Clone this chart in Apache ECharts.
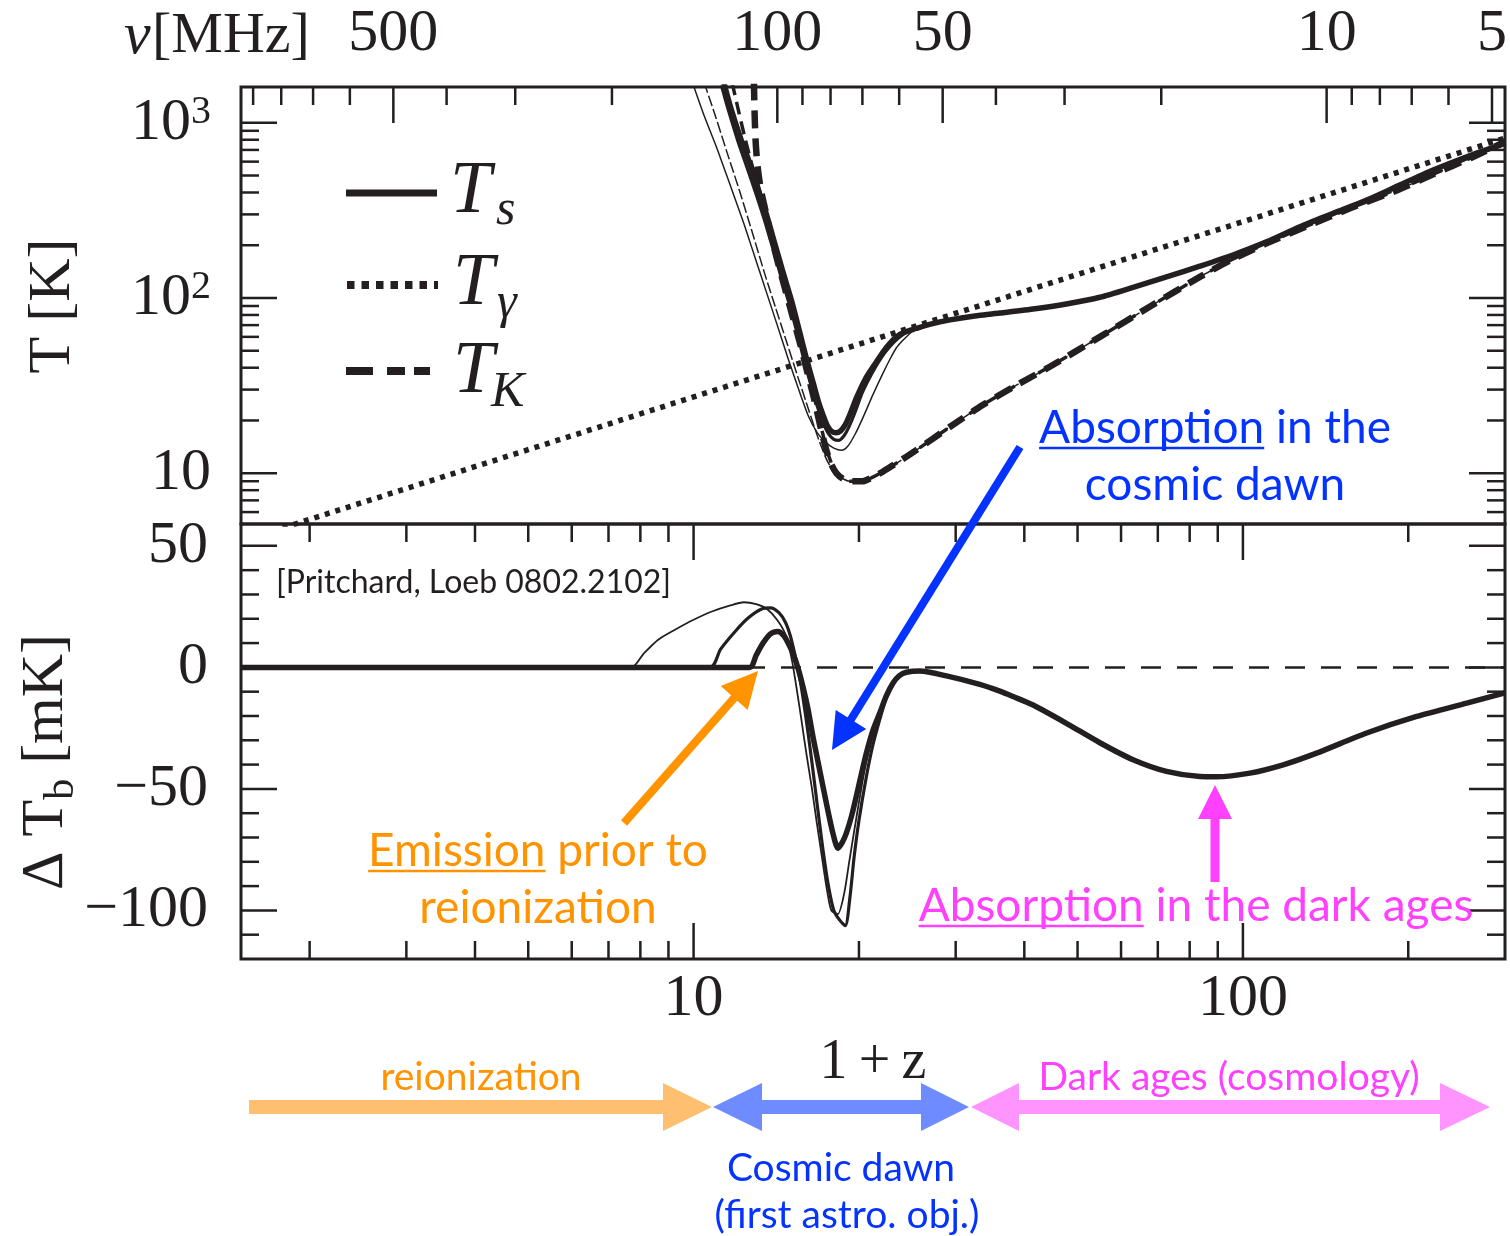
<!DOCTYPE html>
<html>
<head>
<meta charset="utf-8">
<title>21-cm signal: spin temperature and brightness temperature</title>
<script src="https://cdn.jsdelivr.net/npm/echarts@6.0.0/dist/echarts.min.js"></script>
<style>
  html, body { margin: 0; padding: 0; background: #ffffff; }
  #chart { width: 1510px; height: 1236px; }
</style>
</head>
<body>
<div id="chart"></div>
<script>
// ---------------- data (x is 1+z everywhere) ----------------
const zRange = [1.5, 300];
const tRange = [5.13, 1600];
const dtRange = [-120, 59];
const REST_FREQ = 1420.4; // MHz, 21-cm line

// CMB temperature
const tGamma = [[1.5, 4.09], [10, 27.25], [100, 272.5], [300, 817.5]];

// spin temperature: high-z part shared by all three models
const tsTail = [[25.4, 67], [27, 71], [29.3, 75], [33, 79.5], [36.1, 82], [41.5, 86.5], [47.7, 92.5],
  [54.9, 101], [63.1, 115], [72.6, 132], [83.5, 152], [95.9, 176], [110.4, 209], [127, 255], [146, 304],
  [168, 362], [193, 441], [222, 537], [255.6, 640], [300, 763]];
const tsThickHead = [[11.35, 1700], [11.7, 1200], [12.2, 800], [12.65, 590], [13.1, 420], [13.57, 300],
  [14.05, 205], [14.55, 140], [15.1, 95], [15.6, 64], [16.05, 45], [16.5, 33], [16.85, 26], [17.2, 21.5],
  [17.5, 18.8], [17.8, 17.4], [18.15, 17], [18.5, 17.4], [18.9, 19], [19.24, 21.5], [19.8, 27], [20.6, 35],
  [21.5, 43], [22.2, 50], [22.75, 55], [23.4, 60], [24.1, 63.5]];
const tsMediumHead = [[11.2, 1700], [11.55, 1200], [12.05, 780], [12.5, 560], [13.0, 390], [13.45, 280],
  [13.95, 190], [14.45, 130], [15.0, 88], [15.5, 60], [15.95, 42], [16.4, 31], [16.8, 24], [17.2, 19.5],
  [17.6, 16.8], [18.0, 15.6], [18.4, 15.4], [18.8, 16.4], [19.2, 18.5], [19.7, 22.5], [20.3, 29], [21.1, 37],
  [22.0, 46], [22.8, 53], [23.6, 59], [24.5, 64]];
const tsThinHead = [[9.95, 1700], [10.45, 1100], [11.0, 730], [11.6, 460], [12.3, 275], [12.9, 175],
  [13.57, 108], [14.2, 70], [14.9, 44], [15.6, 29], [16.2, 21], [16.8, 17], [17.4, 15], [18.0, 13.9],
  [18.6, 13.5], [19.1, 14.3], [19.7, 16.8], [20.3, 20.5], [21.2, 28], [22.1, 37], [22.8, 45], [23.4, 52],
  [24.0, 57], [24.6, 61.5]];

// gas kinetic temperature: adiabatic branch shared by all three models
const tkTail = [[19.24, 9.0], [20.3, 9.0], [21.2, 9.5], [22.1, 10.2], [23.7, 11.7], [25.4, 13.5], [29.3, 18.4],
  [33.6, 24.5], [38.7, 31.8], [44.5, 40.5], [54.9, 60], [68, 90], [83.5, 132], [96, 167], [110.4, 205],
  [130, 255], [156.7, 325], [190, 410], [222.6, 510], [260, 630], [300, 780]];
const tkThickHead = [[12.88, 1700], [12.9, 1300], [12.93, 1000], [12.98, 750], [13.08, 560], [13.25, 420],
  [13.5, 320], [13.8, 235], [14.2, 165], [14.65, 115], [15.15, 78], [15.65, 54], [16.1, 38], [16.6, 26],
  [17.05, 18], [17.45, 13.5], [17.8, 11.3], [18.2, 10], [18.7, 9.3]];
const tkMediumHead = [[11.75, 1700], [12.05, 1200], [12.4, 820], [12.8, 560], [13.25, 390], [13.7, 270],
  [14.15, 185], [14.6, 128], [15.1, 86], [15.6, 58], [16.05, 41], [16.55, 28], [17.0, 19.5], [17.4, 14.3],
  [17.8, 11.5], [18.2, 10.1], [18.7, 9.3]];
const tkThinHead = [[10.45, 1700], [10.95, 1100], [11.5, 680], [12.15, 400], [12.8, 235], [13.45, 140],
  [14.1, 88], [14.8, 55], [15.5, 35], [16.2, 23], [16.9, 15.5], [17.5, 11.8], [18.1, 10], [18.7, 9.3]];

// differential brightness temperature [mK]: dark-ages part shared by all three models
const dtTail = [[24.4, -2.0], [25.8, -1.5], [28.86, -3.5], [33.19, -7.0], [36.1, -9.8], [38.16, -12],
  [41.5, -15.5], [47.7, -23], [54.9, -31], [63.1, -38], [72.6, -42.8], [83.5, -44.9], [89.5, -45],
  [103, -43.5], [118.4, -40.1], [136.2, -35.3], [168, -27], [207.2, -20.2], [255.6, -14.7], [300, -10.5]];
const dtThickHead = [[1.5, 0], [12.65, 0], [13.0, 5], [13.38, 10], [13.8, 13.8], [14.24, 14.8], [14.6, 13],
  [14.9, 9.5], [15.16, 5.9], [15.5, -0.5], [15.81, -7.8], [16.15, -17], [16.49, -28.4], [16.85, -39],
  [17.2, -49], [17.6, -60], [17.93, -68.2], [18.31, -74.4], [18.65, -72], [18.97, -68.2], [19.4, -61],
  [19.78, -53.1], [20.2, -44], [20.63, -35.3], [21.2, -26], [21.82, -18.8], [22.4, -12], [23.07, -6.4],
  [23.7, -3.4]];
const dtMediumHead = [[1.5, 0], [10.72, 0], [11.2, 7.5], [11.98, 15.5], [12.6, 20.5], [13.3, 24],
  [13.8, 24.5], [14.3, 22.5], [14.7, 18.5], [15.0, 13], [15.3, 5], [15.6, -4], [16.0, -20], [16.4, -38],
  [16.8, -57], [17.2, -75], [17.6, -90], [18.0, -100], [18.45, -104], [18.89, -106.3], [19.25, -95],
  [19.6, -78], [20.0, -63], [20.63, -45], [21.2, -32], [21.82, -21.5], [22.4, -13], [23.07, -7], [23.7, -3.6]];
const dtThinHead = [[1.5, 0], [7.7, 0], [8.1, 5.5], [8.62, 11.4], [9.3, 15.8], [10.0, 19.6], [10.8, 23],
  [11.63, 25.4], [12.35, 26.8], [13.0, 26], [13.6, 24], [14.2, 19.5], [14.75, 12.8], [15.1, 3], [15.38, -7.8],
  [15.7, -21], [16.04, -35.3], [16.4, -49], [16.73, -62.7], [17.1, -77], [17.45, -90.2], [17.81, -100],
  [18.3, -101.5], [18.8, -93], [19.2, -80], [19.78, -62], [20.3, -47], [20.63, -39], [21.2, -28], [21.82, -19],
  [22.4, -12], [23.07, -6.5], [23.7, -3.4]];
const dtZero = [[1.5, 0], [300, 0]];

// ticks
const zMinorTicks = [2, 3, 4, 5, 6, 7, 8, 9, 20, 30, 40, 50, 60, 70, 80, 90, 200];
const zMajorTicks = [10, 100];
const tMinorTicks = [6, 7, 8, 9, 20, 30, 40, 50, 60, 70, 80, 90, 200, 300, 400, 500, 600, 700, 800, 900];
const tMajorTicks = [10, 100, 1000];
const dtMinorTicks = [-110, -90, -80, -70, -60, -40, -30, -20, -10, 10, 20, 30, 40];
const dtMajorTicks = [-100, -50, 0, 50];
const nuMinorTicks = [900, 800, 700, 600, 400, 300, 200, 90, 80, 70, 60, 40, 30, 20, 9, 8, 7, 6];
const nuMajorTicks = [500, 100, 50, 10, 5];
const nuLabels = ['500', '100', '50', '10', '5'];

// ---------------- styling ----------------
const INK = '#231f20';
const SERIF = "'Liberation Serif', 'Times New Roman', serif";
const ORANGE = '#ff9300', BLUE = '#0433ff', MAGENTA = '#ff40ff';
const ORANGE_LIGHT = '#ffbf70', BLUE_LIGHT = '#6e8cff', PINK_LIGHT = '#ff94ff';
const LATO_MID = 0.32;

const measureCtx = document.createElement('canvas').getContext('2d');
function textWidth(str, font) { measureCtx.font = font; return measureCtx.measureText(str).width; }

function lineSeries(name, data, axis, width, type, z, smooth) {
  return {
    name, type: 'line', xAxisIndex: axis, yAxisIndex: axis, data,
    showSymbol: false, symbol: 'none', smooth: smooth === undefined ? 0.25 : smooth,
    z, silent: true, animation: false,
    lineStyle: { color: INK, width, type, cap: 'butt', join: 'round' }
  };
}

function tickItem(params, api) {
  const cs = params.coordSys;
  const pt = api.coord([api.value(0), api.value(1)]);
  const kind = api.value(2);
  const len = api.value(3) ? 36 : 18;
  const st = { stroke: INK, lineWidth: 2.5 };
  const top = cs.y, bottom = cs.y + cs.height, left = cs.x, right = cs.x + cs.width;
  const kids = [];
  if (kind === 0 || kind === 2) kids.push({ type: 'line', shape: { x1: pt[0], y1: top, x2: pt[0], y2: top + len }, style: st });
  if (kind === 0) kids.push({ type: 'line', shape: { x1: pt[0], y1: bottom, x2: pt[0], y2: bottom - len }, style: st });
  if (kind === 1) {
    kids.push({ type: 'line', shape: { x1: left, y1: pt[1], x2: left + len, y2: pt[1] }, style: st });
    kids.push({ type: 'line', shape: { x1: right, y1: pt[1], x2: right - len, y2: pt[1] }, style: st });
  }
  const li = api.value(4);
  if (kind === 2 && li >= 0) {
    kids.push({ type: 'text', x: pt[0], y: top - 53,
      style: { text: nuLabels[li], font: '60px ' + SERIF, fill: INK, align: 'center', verticalAlign: 'middle', textAlign: 'center', textVerticalAlign: 'middle' } });
  }
  return { type: 'group', children: kids };
}

const topTicks = [];
tMinorTicks.forEach(t => topTicks.push([zRange[0], t, 1, 0, -1]));
tMajorTicks.forEach(t => topTicks.push([zRange[0], t, 1, 1, -1]));
nuMinorTicks.forEach(nu => topTicks.push([REST_FREQ / nu, tRange[0], 2, 0, -1]));
nuMajorTicks.forEach((nu, i) => topTicks.push([REST_FREQ / nu, tRange[0], 2, 1, i]));
const bottomTicks = [];
zMinorTicks.forEach(z => bottomTicks.push([z, dtRange[0], 0, 0, -1]));
zMajorTicks.forEach(z => bottomTicks.push([z, dtRange[0], 0, 1, -1]));
dtMinorTicks.forEach(v => bottomTicks.push([zRange[0], v, 1, 0, -1]));
dtMajorTicks.forEach(v => bottomTicks.push([zRange[0], v, 1, 1, -1]));

// ---------------- annotations ----------------
function annoLine(parts, cx, baseline, size, color, alignLeft) {
  const font = size + 'px Lato';
  const full = parts.map(p => p[0]).join('');
  const total = textWidth(full, font);
  let x = alignLeft ? cx : cx - total / 2;
  const els = [{ type: 'text', z: 100, x: x, y: baseline - LATO_MID * size,
    style: { text: full, font: font, fill: color, align: 'left', verticalAlign: 'middle', textAlign: 'left', textVerticalAlign: 'middle' } }];
  parts.forEach(p => {
    const w = textWidth(p[0], font);
    if (p[1]) els.push({ type: 'line', z: 100, shape: { x1: x, y1: baseline + 5, x2: x + w, y2: baseline + 5 }, style: { stroke: color, lineWidth: 2.5 } });
    x += w;
  });
  return els;
}
function arrow(x1, y1, x2, y2, color, w, hl, hw) {
  const dx = x2 - x1, dy = y2 - y1, L = Math.hypot(dx, dy);
  const ux = dx / L, uy = dy / L, nx = -uy, ny = ux;
  const bx = x2 - ux * hl, by = y2 - uy * hl;
  return [
    { type: 'line', z: 100, shape: { x1: x1, y1: y1, x2: bx + ux * 2, y2: by + uy * 2 }, style: { stroke: color, lineWidth: w } },
    { type: 'polygon', z: 100, shape: { points: [[x2, y2], [bx + nx * hw, by + ny * hw], [bx - nx * hw, by - ny * hw]] }, style: { fill: color } }
  ];
}
function serifText(str, x, yMid, size, italic, align, rotation) {
  return { type: 'text', z: 100, x: x, y: yMid, rotation: rotation || 0,
    style: { text: str, font: (italic ? 'italic ' : '') + size + 'px ' + SERIF, fill: INK,
      align: align || 'left', verticalAlign: 'middle', textAlign: align || 'left', textVerticalAlign: 'middle' } };
}
function seg(x1, y1, x2, y2, w, dash) {
  return { type: 'line', z: 100, shape: { x1, y1, x2, y2 }, style: { stroke: INK, lineWidth: w, lineDash: dash || null } };
}

const graphics = [];
// legend
graphics.push(seg(346, 193, 437, 193, 7));
graphics.push(seg(347, 285, 438, 285, 8, [7.5, 7]));
graphics.push(seg(346, 371, 373, 371, 8), seg(387, 371, 405, 371, 8), seg(414, 371, 430, 371, 8));
graphics.push(serifText('T', 450, 193, 74, true), serifText('s', 496, 211, 50, true));
graphics.push(serifText('T', 453, 285, 74, true), serifText('\u03b3', 497, 304, 50, true));
graphics.push(serifText('T', 453, 373, 74, true), serifText('K', 491, 393, 50, true));

// frequency axis title
graphics.push(serifText('\u03bd', 124, 37, 60, true), serifText('[MHz]', 152, 37, 58, false));

// y axis titles (rotated)
graphics.push(serifText('T [K]', 53, 306, 60, false, 'center', Math.PI / 2));
(function () {
  const big = '60px ' + SERIF, small = '42px ' + SERIF;
  const w1 = textWidth('\u0394 T', big), w2 = textWidth('b', small), w3 = textWidth(' [mK]', big);
  const y0 = 762 + (w1 + w2 + w3) / 2;
  graphics.push(serifText('\u0394 T', 46, y0, 60, false, 'left', Math.PI / 2));
  graphics.push(serifText('b', 62, y0 - w1, 42, false, 'left', Math.PI / 2));
  graphics.push(serifText(' [mK]', 46, y0 - w1 - w2, 60, false, 'left', Math.PI / 2));
})();

// in-plot annotations
graphics.push(...annoLine([['Absorption', true], [' in the', false]], 1215, 443, 46, BLUE));
graphics.push(...annoLine([['cosmic dawn', false]], 1215, 500, 46, BLUE));
graphics.push(...arrow(1020, 447, 832, 750, BLUE, 8, 36, 18));
graphics.push(...annoLine([['Emission', true], [' prior to', false]], 538, 866, 46, ORANGE));
graphics.push(...annoLine([['reionization', false]], 538, 923, 46, ORANGE));
graphics.push(...arrow(624, 823, 758, 671, ORANGE, 8, 36, 18));
graphics.push(...annoLine([['Absorption', true], [' in the dark ages', false]], 1196, 921, 46, MAGENTA));
graphics.push(...arrow(1215, 882, 1215, 785, MAGENTA, 9, 34, 17));
graphics.push(...annoLine([['[Pritchard, Loeb 0802.2102]', false]], 276, 593, 32, INK, true));

// epoch band below the axis
graphics.push({ type: 'polygon', z: 100, shape: { points: [[249, 1100], [663, 1100], [663, 1083], [712, 1107], [663, 1131], [663, 1114], [249, 1114]] }, style: { fill: ORANGE_LIGHT } });
graphics.push({ type: 'polygon', z: 100, shape: { points: [[713, 1107], [762, 1083], [762, 1100], [921, 1100], [921, 1083], [969, 1107], [921, 1131], [921, 1114], [762, 1114], [762, 1131]] }, style: { fill: BLUE_LIGHT } });
graphics.push({ type: 'polygon', z: 100, shape: { points: [[971, 1107], [1019, 1083], [1019, 1100], [1440, 1100], [1440, 1083], [1490, 1107], [1440, 1131], [1440, 1114], [1019, 1114], [1019, 1131]] }, style: { fill: PINK_LIGHT } });
graphics.push(...annoLine([['reionization', false]], 481, 1090, 39, ORANGE));
graphics.push(...annoLine([['Dark ages (cosmology)', false]], 1229, 1090, 39, MAGENTA));
graphics.push(...annoLine([['Cosmic dawn', false]], 841, 1181, 39, BLUE));
graphics.push(...annoLine([['(first astro. obj.)', false]], 847, 1228, 39, BLUE));

// ---------------- chart ----------------
const logLabel = v => {
  const e = Math.log10(v), r = Math.round(e);
  if (Math.abs(e - r) > 1e-6) return '';
  return r === 1 ? '{m|10}' : '{m|10}{e|' + r + '}';
};

const option = {
  animation: false,
  backgroundColor: '#ffffff',
  grid: [
    { left: 241, top: 87, width: 1264, height: 437, show: true, borderColor: INK, borderWidth: 3, backgroundColor: 'transparent' },
    { left: 241, top: 524, width: 1264, height: 435, show: true, borderColor: INK, borderWidth: 3, backgroundColor: 'transparent' }
  ],
  xAxis: [
    { gridIndex: 0, type: 'log', min: zRange[0], max: zRange[1], axisLine: { show: false }, axisTick: { show: false },
      axisLabel: { show: false }, splitLine: { show: false } },
    { gridIndex: 1, type: 'log', min: zRange[0], max: zRange[1], axisLine: { show: false }, axisTick: { show: false },
      splitLine: { show: false },
      axisLabel: { formatter: v => { const e = Math.log10(v), r = Math.round(e); return Math.abs(e - r) < 1e-6 ? String(Math.round(v)) : ''; },
        fontFamily: SERIF, fontSize: 60, color: INK, margin: 10 },
      name: '1\u2009+\u2009z', nameLocation: 'middle', nameGap: 76,
      nameTextStyle: { fontFamily: SERIF, fontSize: 56, color: INK } }
  ],
  yAxis: [
    { gridIndex: 0, type: 'log', min: tRange[0], max: tRange[1], axisLine: { show: false }, axisTick: { show: false },
      splitLine: { show: false },
      axisLabel: { formatter: logLabel, margin: 30,
        rich: { m: { fontFamily: SERIF, fontSize: 60, color: INK }, e: { fontFamily: SERIF, fontSize: 40, color: INK, verticalAlign: 'top' } } } },
    { gridIndex: 1, type: 'value', min: dtRange[0], max: dtRange[1], interval: 10, axisLine: { show: false }, axisTick: { show: false },
      splitLine: { show: false },
      axisLabel: { formatter: v => (v % 50 === 0 ? String(v).replace('-', '\u2212') : ''), fontFamily: SERIF, fontSize: 60, color: INK, margin: 33 } }
  ],
  graphic: { elements: graphics },
  series: [
    lineSeries('T_gamma', tGamma, 0, 5.5, [5, 6], 3, false),
    lineSeries('T_K thin', tkThinHead.concat(tkTail), 0, 1.5, [11, 3], 4),
    lineSeries('T_K medium', tkMediumHead.concat(tkTail), 0, 3.5, [13, 7], 4),
    lineSeries('T_K thick', tkThickHead.concat(tkTail), 0, 6.5, [18, 10], 4),
    lineSeries('T_s thin', tsThinHead.concat(tsTail), 0, 1.5, 'solid', 5),
    lineSeries('T_s medium', tsMediumHead.concat(tsTail), 0, 3.2, 'solid', 5),
    lineSeries('T_s thick', tsThickHead.concat(tsTail), 0, 5.5, 'solid', 5),
    lineSeries('zero', dtZero, 1, 2.5, [20, 16], 3, false),
    lineSeries('dTb thin', dtThinHead.concat(dtTail), 1, 1.8, 'solid', 4),
    lineSeries('dTb medium', dtMediumHead.concat(dtTail), 1, 3.2, 'solid', 4),
    lineSeries('dTb thick', dtThickHead.concat(dtTail), 1, 5.5, 'solid', 5),
    { type: 'custom', name: 'top ticks', xAxisIndex: 0, yAxisIndex: 0, data: topTicks, renderItem: tickItem, silent: true, clip: false, z: 6 },
    { type: 'custom', name: 'bottom ticks', xAxisIndex: 1, yAxisIndex: 1, data: bottomTicks, renderItem: tickItem, silent: true, clip: false, z: 6 }
  ]
};

const chart = echarts.init(document.getElementById('chart'), null, { renderer: 'canvas' });
chart.setOption(option);
</script>
</body>
</html>
